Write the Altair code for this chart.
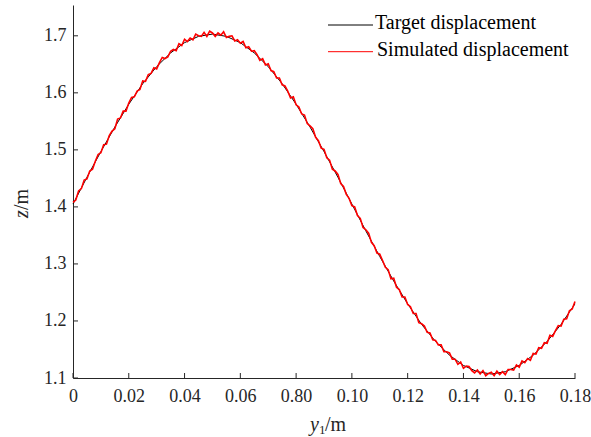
import altair as alt
import pandas as pd

# ---------------- data ----------------
x_ticks = [0.0, 0.02, 0.04, 0.06, 0.08, 0.10, 0.12, 0.14, 0.16, 0.18]
x_tick_labels = ["0", "0.02", "0.04", "0.06", "0.80", "0.10", "0.12", "0.14", "0.16", "0.18"]
y_ticks = [1.1, 1.2, 1.3, 1.4, 1.5, 1.6, 1.7]

series_names = ["Target displacement", "Simulated displacement"]
series_colors = ["#000000", "#ff0000"]

target_x = [0.000, 0.005, 0.010, 0.015, 0.020, 0.025, 0.030, 0.035, 0.040, 0.045,
            0.050, 0.055, 0.060, 0.065, 0.070, 0.075, 0.080, 0.085, 0.090, 0.095,
            0.100, 0.105, 0.110, 0.115, 0.120, 0.125, 0.130, 0.135, 0.140, 0.145,
            0.150, 0.155, 0.160, 0.165, 0.170, 0.175, 0.180]
target_z = [1.405, 1.452, 1.497, 1.540, 1.580, 1.616, 1.646, 1.670, 1.688, 1.699,
            1.703, 1.699, 1.688, 1.670, 1.646, 1.616, 1.580, 1.540, 1.497, 1.452,
            1.405, 1.358, 1.313, 1.270, 1.230, 1.194, 1.164, 1.140, 1.122, 1.111,
            1.107, 1.111, 1.122, 1.140, 1.164, 1.194, 1.230]

sim_x = [round(i * 0.001, 3) for i in range(181)]
sim_z = [
    1.408, 1.412, 1.428, 1.432, 1.447, 1.449, 1.463, 1.466, 1.480, 1.492,
    1.495, 1.509, 1.510, 1.525, 1.533, 1.537, 1.554, 1.556, 1.568, 1.568,
    1.582, 1.592, 1.593, 1.603, 1.606, 1.621, 1.620, 1.632, 1.634, 1.644,
    1.642, 1.653, 1.662, 1.660, 1.663, 1.673, 1.676, 1.674, 1.686, 1.683,
    1.694, 1.690, 1.696, 1.693, 1.703, 1.700, 1.699, 1.706, 1.699, 1.708,
    1.705, 1.699, 1.705, 1.701, 1.707, 1.697, 1.699, 1.700, 1.691, 1.693,
    1.687, 1.690, 1.679, 1.681, 1.673, 1.674, 1.667, 1.657, 1.660, 1.649,
    1.651, 1.639, 1.637, 1.626, 1.626, 1.614, 1.612, 1.603, 1.591, 1.593,
    1.579, 1.575, 1.563, 1.561, 1.546, 1.542, 1.537, 1.522, 1.516, 1.503,
    1.501, 1.486, 1.482, 1.466, 1.463, 1.457, 1.441, 1.436, 1.422, 1.415,
    1.402, 1.400, 1.385, 1.380, 1.364, 1.360, 1.354, 1.338, 1.332, 1.319,
    1.317, 1.306, 1.294, 1.290, 1.274, 1.275, 1.259, 1.255, 1.242, 1.242,
    1.229, 1.225, 1.213, 1.213, 1.197, 1.195, 1.191, 1.180, 1.179, 1.167,
    1.166, 1.158, 1.158, 1.146, 1.146, 1.144, 1.133, 1.133, 1.124, 1.128,
    1.117, 1.121, 1.120, 1.113, 1.109, 1.114, 1.107, 1.113, 1.104, 1.108,
    1.110, 1.104, 1.112, 1.106, 1.111, 1.106, 1.115, 1.115, 1.114, 1.123,
    1.119, 1.130, 1.127, 1.134, 1.131, 1.143, 1.142, 1.153, 1.152, 1.162,
    1.161, 1.175, 1.173, 1.183, 1.192, 1.191, 1.203, 1.204, 1.218, 1.221,
    1.234,
]

# ---------------- layout ----------------
W, H = 502, 373
FONT = "Liberation Serif"
AX = "#262626"
TICK = 5

x_scale = alt.Scale(domain=[0, 0.18], nice=False, zero=False)
y_scale = alt.Scale(domain=[1.1, 1.754], nice=False, zero=False)

label_expr = "[" + ",".join(f"'{l}'" for l in x_tick_labels) + "][round(datum.value / 0.02)]"

df_t = pd.DataFrame({"x": target_x, "z": target_z})
df_s = pd.DataFrame({"x": sim_x, "z": sim_z})

x_axis = alt.Axis(values=x_ticks, labelExpr=label_expr, title=None, ticks=False, grid=False,
                  domainColor=AX, domainWidth=1, labelColor=AX, labelFont=FONT,
                  labelFontSize=18, labelPadding=9, labelFlush=False, labelOverlap=False)
y_axis = alt.Axis(values=y_ticks, format=".1f", title=None, ticks=False, grid=False,
                  domainColor=AX, domainWidth=1, labelColor=AX, labelFont=FONT,
                  labelFontSize=18, labelPadding=7, labelOverlap=False)

target = alt.Chart(df_t).mark_line(color=series_colors[0], strokeWidth=1).encode(
    x=alt.X("x:Q", scale=x_scale, axis=x_axis),
    y=alt.Y("z:Q", scale=y_scale, axis=y_axis),
)
sim = alt.Chart(df_s).mark_line(color=series_colors[1], strokeWidth=1.6).encode(
    x=alt.X("x:Q", scale=x_scale, axis=x_axis),
    y=alt.Y("z:Q", scale=y_scale, axis=y_axis),
)

xt = alt.Chart(pd.DataFrame({"x": x_ticks})).mark_rule(color=AX, strokeWidth=1).encode(
    x=alt.X("x:Q", scale=x_scale, axis=x_axis),
    y=alt.value(H), y2=alt.value(H - TICK),
)
yt = alt.Chart(pd.DataFrame({"z": y_ticks})).mark_rule(color=AX, strokeWidth=1).encode(
    y=alt.Y("z:Q", scale=y_scale, axis=y_axis),
    x=alt.value(0), x2=alt.value(TICK),
)

# legend (manual, top right)
legend_layers = []
for i, (name, col) in enumerate(zip(series_names, series_colors)):
    ly = 20 + i * 26.7
    src = pd.DataFrame({"name": [name]})
    legend_layers.append(
        alt.Chart(src).mark_rule(color=col, strokeWidth=1).encode(
            x=alt.value(255), x2=alt.value(300), y=alt.value(ly))
    )
    legend_layers.append(
        alt.Chart(src).mark_text(align="left", baseline="alphabetic", font=FONT,
                                 fontSize=20, color="#000000").encode(
            x=alt.value(302 + 2 * i), y=alt.value(ly + 4), text="name:N")
    )

# axis titles with italic variables and subscript
def txt(t, x, y, size=20, style="normal", angle=0):
    return alt.Chart(pd.DataFrame({"t": [t]})).mark_text(
        align="left", baseline="alphabetic", font=FONT, fontSize=size,
        fontStyle=style, angle=angle, color=AX).encode(
        x=alt.value(x), y=alt.value(y), text="t:N")

titles = [
    txt("y", 237, 426, style="italic"),
    txt("1", 246, 429, size=13),
    txt("/m", 252, 426),
    txt("z", -45, 213, style="italic", angle=270),
    txt("/m", -45, 205, angle=270),
]

chart = alt.layer(target, sim, xt, yt, *legend_layers, *titles).properties(
    width=W, height=H,
    autosize=alt.AutoSizeParams(type="none"),
    padding={"left": 73, "top": 5, "right": 16, "bottom": 59},
).configure_view(stroke=None)

chart.save("out.html", embed_options={"renderer": "svg", "actions": False})
